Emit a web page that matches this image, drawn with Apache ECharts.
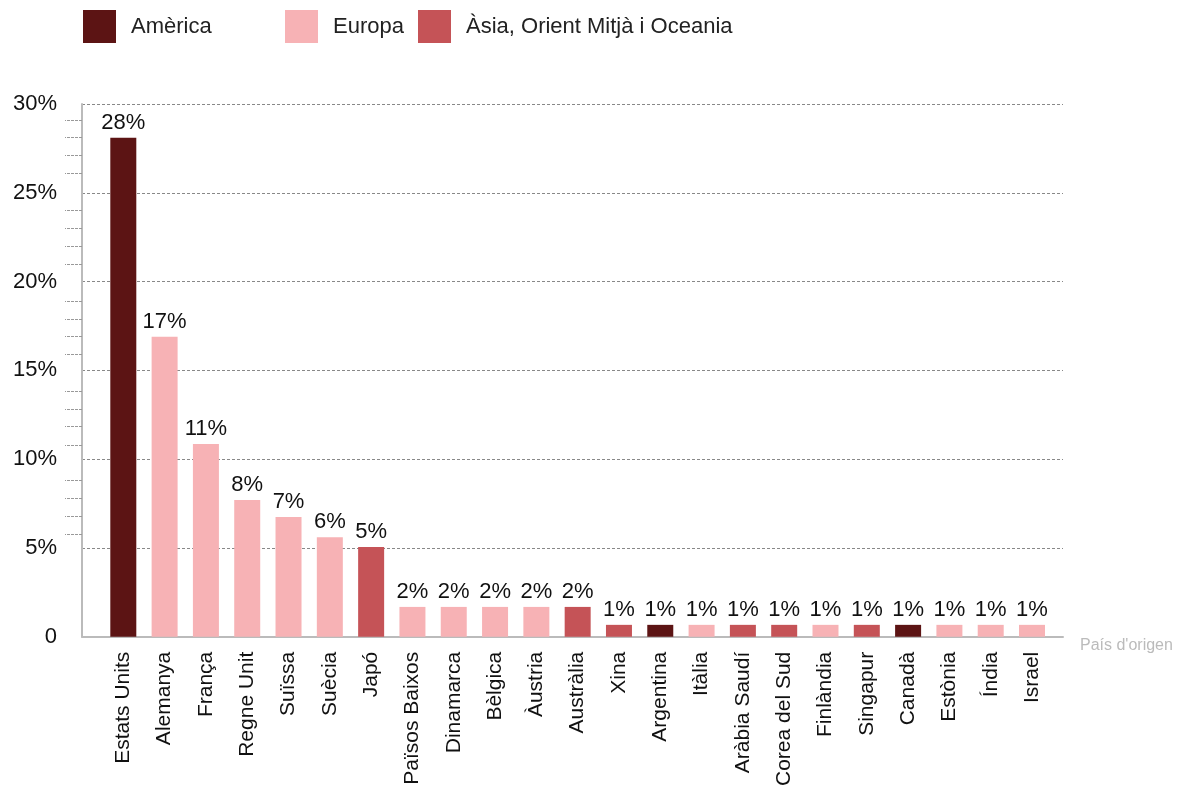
<!DOCTYPE html>
<html>
<head>
<meta charset="utf-8">
<script src="https://cdn.jsdelivr.net/npm/echarts@6/dist/echarts.min.js"></script>
<style>
  html, body { margin: 0; padding: 0; background: #fff; }
  #chart { width: 1187px; height: 789px; }
</style>
</head>
<body>
<div id="chart"></div>
<script>
const categories = ['Estats Units','Alemanya','França','Regne Unit','Suïssa','Suècia','Japó','Països Baixos','Dinamarca','Bèlgica','Àustria','Austràlia','Xina','Argentina','Itàlia','Aràbia Saudí','Corea del Sud','Finlàndia','Singapur','Canadà','Estònia','Índia','Israel'];
const values = [28.1, 16.9, 10.85, 7.7, 6.75, 5.6, 5.05, 1.68, 1.68, 1.68, 1.68, 1.68, 0.67, 0.67, 0.67, 0.67, 0.67, 0.67, 0.67, 0.67, 0.67, 0.67, 0.67];
const regions = ['Amèrica','Europa','Europa','Europa','Europa','Europa','Àsia, Orient Mitjà i Oceania','Europa','Europa','Europa','Europa','Àsia, Orient Mitjà i Oceania','Àsia, Orient Mitjà i Oceania','Amèrica','Europa','Àsia, Orient Mitjà i Oceania','Àsia, Orient Mitjà i Oceania','Europa','Àsia, Orient Mitjà i Oceania','Amèrica','Europa','Europa','Europa'];
const regionNames = ['Amèrica','Europa','Àsia, Orient Mitjà i Oceania'];
const regionColors = ['#5c1414','#f7b2b5','#c55357'];
const yTickValues = [0, 5, 10, 15, 20, 25, 30];
const minorTickValues = [29.1, 28.1, 27.1, 26.1, 24.0, 23.0, 22.0, 21.0, 18.9, 17.9, 16.9, 15.9, 13.8, 12.8, 11.85, 10.8, 8.8, 7.8, 6.8, 5.75];
const axisName = "País d'origen";

const FONT = "'Liberation Sans', Arial, sans-serif";

const chart = echarts.init(document.getElementById('chart'), null, { renderer: 'canvas' });

const series = regionNames.map((r, ri) => ({
  name: r,
  type: 'bar',
  barWidth: 26,
  barGap: '-100%',
  itemStyle: { color: regionColors[ri] },
  label: {
    show: true,
    position: 'top',
    distance: 4,
    fontFamily: FONT,
    fontSize: 22,
    color: '#111',
    formatter: p => Math.round(p.value[1]) + '%'
  },
  data: values.map((v, i) => regions[i] === r ? [i + 1, v] : null).filter(d => d !== null)
}));

const legendLefts = [83, 285, 418];
const legends = regionNames.map((r, ri) => ({
  left: legendLefts[ri],
  top: 10,
  padding: 0,
  data: [r],
  icon: 'rect',
  itemWidth: 33,
  itemHeight: 33,
  selectedMode: false,
  textStyle: { fontFamily: FONT, fontSize: 22, color: '#222', padding: [0, 0, 0, 10] }
}));

chart.setOption({
  animation: false,
  textStyle: { fontFamily: FONT },
  legend: legends,
  grid: { left: 82, right: 124, top: 104, bottom: 149, containLabel: false },
  xAxis: {
    type: 'value',
    min: 0,
    max: 23.75,
    interval: 1,
    name: axisName,
    nameLocation: 'end',
    nameGap: 17,
    nameTextStyle: { color: '#bbb', fontSize: 16, fontFamily: FONT, verticalAlign: 'top', padding: [1, 0, 0, 0] },
    axisLine: { show: true, lineStyle: { color: '#bbb', width: 2 } },
    axisTick: { show: false },
    splitLine: { show: false },
    axisLabel: {
      rotate: 90,
      margin: 15,
      fontSize: 21,
      color: '#111',
      fontFamily: FONT,
      showMaxLabel: false,
      formatter: v => (Number.isInteger(v) && v >= 1 && v <= categories.length) ? categories[v - 1] : ''
    }
  },
  yAxis: [{
    type: 'value',
    min: 0,
    max: 30,
    interval: 5,
    axisLine: { show: true, lineStyle: { color: '#bbb', width: 2 } },
    axisTick: { show: false },
    splitLine: { show: true, lineStyle: { color: '#888', type: [3, 2], width: 1 } },
    axisLabel: {
      margin: 25,
      fontSize: 22,
      color: '#111',
      fontFamily: FONT,
      formatter: v => v === 0 ? '0' : v + '%'
    }
  }, {
    type: 'value',
    min: 0,
    max: 30,
    position: 'left',
    axisLine: { show: false },
    axisLabel: { show: false },
    splitLine: { show: false },
    axisTick: {
      show: true,
      length: 17,
      customValues: minorTickValues,
      lineStyle: { color: '#999', type: [3, 1], width: 1 }
    }
  }],
  series: series
});
</script>
</body>
</html>
